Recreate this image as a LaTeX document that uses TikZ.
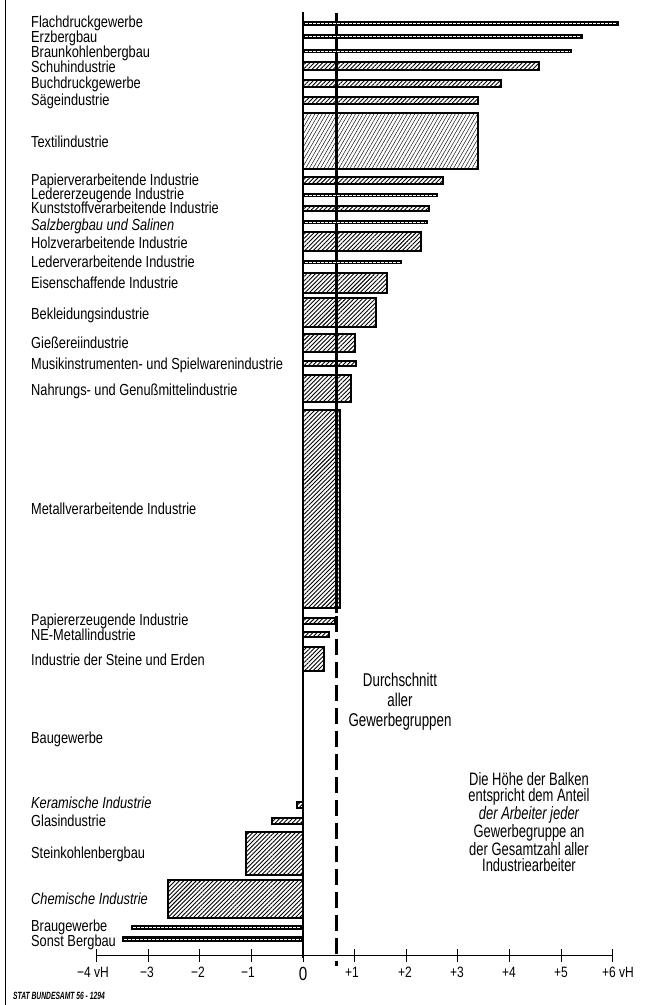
\documentclass[tikz,border=0pt]{standalone}
\usepackage{fontspec}
\setmainfont{Liberation Sans}
\newfontfamily\lab[FakeStretch=0.8]{Liberation Sans}
\newfontfamily\narrowf[FakeStretch=0.72]{Liberation Sans}
\newfontfamily\srcf[FakeStretch=0.64]{Liberation Sans}
\usetikzlibrary{patterns,patterns.meta}
\newcommand\tbar[4]{%
  \fill[black] (#1,#3) rectangle (#2,#4);
  \draw[white,line width=0.8pt,dash pattern=on 2.5pt off 1.5pt]
    ({min(#1,#2)+2},{(#3+#4)/2}) -- ({max(#1,#2)-2},{(#3+#4)/2});
}
\tikzset{
  lbl/.style={anchor=base west, inner sep=0pt, font=\lab\fontsize{16}{18}\selectfont},
  ilbl/.style={lbl, font=\lab\itshape\fontsize{16}{18}\selectfont},
  hatch/.style={draw=black, line width=1.3pt,
    pattern={Lines[angle=45,distance=3pt,line width=0.9pt]}},
  lighthatch/.style={draw=black, line width=1.3pt,
    pattern={Lines[angle=60,distance=3.2pt,line width=0.45pt]}},
  ticklbl/.style={inner sep=0pt, font=\lab\fontsize{15}{17}\selectfont},
  zeroline/.style={line width=2.2pt},
  avgline/.style={line width=3pt},
}
\begin{document}
\begin{tikzpicture}[x=1pt,y=-1pt]
\useasboundingbox (0,0) rectangle (645,1005);
% page edge line
\draw[line width=1pt] (5,0) -- (5,1005);
% average line (behind bars)
\draw[avgline] (336,13) -- (336,613);
\draw[avgline, dash pattern=on 16pt off 7pt] (336,616) -- (336,966);
% bars
\tbar{303}{619}{21}{26}
\tbar{303}{583}{34}{38.5}
\tbar{303}{572}{49}{53}
\draw[hatch] (303,62) rectangle (539,70);
\draw[hatch] (303,80) rectangle (501,87);
\draw[hatch] (303,97) rectangle (478,104);
\draw[lighthatch] (303,113) rectangle (478,169);
\draw[hatch] (303,177) rectangle (443,184);
\tbar{303}{438}{193}{197}
\draw[hatch] (303,206) rectangle (429,211);
\tbar{303}{428}{220}{224}
\draw[hatch] (303,232) rectangle (421,251);
\tbar{303}{402}{260}{264}
\draw[hatch] (303,273) rectangle (387,293);
\draw[hatch] (303,298) rectangle (376,327);
\draw[hatch] (303,334) rectangle (355,352);
\draw[hatch] (303,361) rectangle (356,366);
\draw[hatch] (303,375) rectangle (351,402);
\draw[hatch] (303,410) rectangle (340,608);
\draw[hatch] (303,618) rectangle (335,624);
\draw[hatch] (303,632) rectangle (329,637);
\draw[hatch] (303,647) rectangle (324,671);
\draw[hatch] (297,802) rectangle (303,808);
\draw[hatch] (272,818) rectangle (303,824);
\draw[hatch] (246,832) rectangle (303,875);
\draw[hatch] (168,880) rectangle (303,918);
\tbar{131}{303}{925}{930}
\tbar{122}{303}{936}{942}
% zero line
\draw[zeroline] (303,12) -- (303,958);
% axis
\draw[line width=0.7pt] (97,955) -- (613,955);
\foreach \v in {-4,...,6} {
  \draw[line width=0.7pt] ({303+51.6*\v},949) -- ({303+51.6*\v},962);
}
\node[ticklbl] (tm4) at (93,972) {−4 vH};
\node[ticklbl] (tm3) at (147,972) {−3};
\node[ticklbl] (tm2) at (198,972) {−2};
\node[ticklbl] (tm1) at (248,972) {−1};
\node[inner sep=0pt, font=\lab\fontsize{19}{21}\selectfont] (t0) at (303,974) {0};
\node[ticklbl] (tp1) at (352,972) {+1};
\node[ticklbl] (tp2) at (405,972) {+2};
\node[ticklbl] (tp3) at (457,972) {+3};
\node[ticklbl] (tp4) at (509,972) {+4};
\node[ticklbl] (tp5) at (561,972) {+5};
\node[ticklbl] (tp6) at (618,972) {+6 vH};
% labels
\node[lbl] (l1) at (31,27) {Flachdruckgewerbe};
\node[lbl] (l2) at (31,42) {Erzbergbau};
\node[lbl] (l3) at (31,57) {Braunkohlenbergbau};
\node[lbl] (l4) at (31,72) {Schuhindustrie};
\node[lbl] (l5) at (31,88) {Buchdruckgewerbe};
\node[lbl] (l6) at (31,105) {Sägeindustrie};
\node[lbl] (l7) at (31,147) {Textilindustrie};
\node[lbl] (l8) at (31,185) {Papierverarbeitende Industrie};
\node[lbl] (l9) at (31,199) {Ledererzeugende Industrie};
\node[lbl] (l10) at (31,213) {Kunststoffverarbeitende Industrie};
\node[ilbl] (l11) at (31,230) {Salzbergbau und Salinen};
\node[lbl] (l12) at (31,248) {Holzverarbeitende Industrie};
\node[lbl] (l13) at (31,267) {Lederverarbeitende Industrie};
\node[lbl] (l14) at (31,288) {Eisenschaffende Industrie};
\node[lbl] (l15) at (31,319) {Bekleidungsindustrie};
\node[lbl] (l16) at (31,348) {Gießereiindustrie};
\node[lbl] (l17) at (31,369) {Musikinstrumenten- und Spielwarenindustrie};
\node[lbl] (l18) at (31,395) {Nahrungs- und Genußmittelindustrie};
\node[lbl] (l19) at (31,514) {Metallverarbeitende Industrie};
\node[lbl] (l20) at (31,625) {Papiererzeugende Industrie};
\node[lbl] (l21) at (31,640) {NE-Metallindustrie};
\node[lbl] (l22) at (31,665) {Industrie der Steine und Erden};
\node[lbl] (l23) at (31,743) {Baugewerbe};
\node[ilbl] (l24) at (31,808) {Keramische Industrie};
\node[lbl] (l25) at (31,826) {Glasindustrie};
\node[lbl] (l26) at (31,858) {Steinkohlenbergbau};
\node[ilbl] (l27) at (31,904) {Chemische Industrie};
\node[lbl] (l28) at (31,931) {Braugewerbe};
\node[lbl] (l29) at (31,946) {Sonst Bergbau};
% average caption
\node[align=center, inner sep=0pt, font=\narrowf\fontsize{18.5}{20}\selectfont] (avgtxt) at (400,702)
  {Durchschnitt\\aller\\Gewerbegruppen};
% legend
\node[align=center, inner sep=0pt, font=\narrowf\fontsize{18}{16.6}\selectfont] (legend) at (529,822)
  {Die Höhe der Balken\\entspricht dem Anteil\\{\itshape der Arbeiter jeder}\\Gewerbegruppe an\\der Gesamtzahl aller\\Industriearbeiter};
% source
\node[anchor=base west, inner sep=0pt, font=\srcf\bfseries\itshape\fontsize{10.5}{12}\selectfont] (src) at (13,999)
  {STAT BUNDESAMT 56 - 1294};
\end{tikzpicture}
\end{document}
